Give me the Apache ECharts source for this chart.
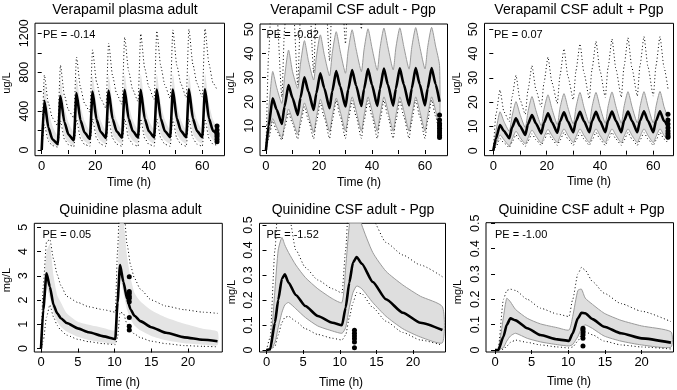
<!DOCTYPE html>
<html>
<head>
<meta charset="utf-8">
<script src="https://cdn.jsdelivr.net/npm/echarts@6/dist/echarts.min.js"></script>
<style>
html,body{margin:0;padding:0;background:#fff;}
#chart{width:677px;height:390px;}
</style>
</head>
<body>
<div id="chart"></div>
<script>
// ---- time grids (h) ----
var tVera = [0,1,2.5,4, 6,7,8.5,10, 12,13,14.5,16, 18,19,20.5,22, 24,25,26.5,28, 30,31,32.5,34,
  36,37,38.5,40, 42,43,44.5,46, 48,49,50.5,52, 54,55,56.5,58, 60,61,62.5,64, 65.5];
var tQ4 = [0,0.3,0.75,1.2,1.7,2.2,2.7,3.5,5,6.5,8.5,10.1,10.4,10.75,11.2,11.7,12.2,12.7,13.5,15,17,19.5,22,24];
var tQ5 = [0,0.5,1.15,1.6,2.1,2.5,3,4,5.3,7,9,10.3,10.8,11.3,11.8,12.3,13,14.5,16.3,18.6,21,24];
var tQ6 = [0,0.45,1.15,1.6,2.1,2.8,4.4,6.2,8.5,10.1,10.6,11.3,11.8,12.3,13.3,14.9,17.2,20,24];

// ---- Verapamil plasma adult (ug/L) ----
var vpMed = [0,505,230,110, 62,555,285,160, 100,585,305,180, 115,600,312,188, 125,612,318,192, 128,618,320,195,
  130,620,322,196, 130,622,322,196, 132,622,323,197, 132,624,323,197, 132,625,323,197, 165];
var vpHi = [0,680,400,250, 150,730,440,285, 185,755,460,300, 200,765,468,305, 205,772,472,308, 210,776,475,310,
  210,778,476,311, 212,780,477,312, 212,780,478,312, 212,781,478,312, 212,782,478,312, 230];
var vpLo = [0,330,110,60, 35,380,140,80, 50,400,155,90, 58,410,160,95, 62,415,162,97, 64,418,164,98,
  65,420,165,99, 65,420,165,99, 66,421,166,100, 66,421,166,100, 66,422,166,100, 80];
var vpP95 = [0,770,480,330, 250,870,560,410, 330,955,640,480, 390,1030,700,530, 430,1100,760,580, 470,1160,810,620,
  500,1195,840,650, 520,1225,860,670, 530,1235,870,680, 540,1240,880,685, 545,1248,885,690, 620];
var vpP05 = [0,260,90,45, 30,300,110,55, 35,315,118,58, 38,320,120,60, 38,320,120,60, 38,320,120,60,
  38,320,120,60, 38,320,120,60, 38,320,120,60, 38,320,120,60, 38,320,120,60, 48];
var vpObs = [247,206,172,154,137,110,86];

// ---- Verapamil CSF adult - Pgp (ug/L) ----
var vcMed = [0,10,21.4,16.8, 10.8,18,26.9,21.6, 14.5,21.6,30.1,24.3, 16.6,23.5,31.8,25.6, 17.3,24.3,32.7,26.4,
  18,24.9,33.1,26.7, 18.2,25.2,33.5,27, 18.3,25.3,33.7,27.1, 18.4,25.4,33.8,27.2, 18.5,25.5,33.9,27.3, 18.5,25.5,34,27.3, 20];
var vcHi = [0,16,32.5,26, 19.3,30,41.4,32.5, 25.5,35.5,45.3,37, 29,38.5,47.7,39.5, 30.7,40,49,41, 31.8,41,49.8,41.8,
  32.5,41.5,50.2,42.3, 33,42,50.5,42.7, 33.2,42.2,50.6,42.9, 33.5,42.4,50.7,43, 33.6,42.5,50.8,43.1, 35];
var vcLo = [0,6,13,9.5, 5,10.5,17,12.5, 6.5,12.5,19.5,14.5, 7.2,13.5,21,15.5, 7.6,14,21.5,16, 7.8,14.2,22,16.3,
  7.8,14.2,22,16.3, 7.8,14.2,22,16.3, 7.8,14.2,22,16.3, 7.8,14.2,22,16.3, 7.8,14.2,22,16.3, 9];
var vcP95 = [0,40,75,58, 22,50,85,66, 27,55,92,72, 32,60,96,76, 37,64,100,80, 44,68,102,82,
  50,72,104,84, 53,74,105,85, 55,75,106,86, 56,76,106,86, 57,77,107,87, 62];
var vcP05 = [0,4.5,12,8, 4.1,9,15.5,11, 4.5,10.5,18,12.5, 4.7,11.5,19.5,13.5, 4.8,12,20.5,14, 4.8,12,20.5,14,
  4.8,12,20.5,14, 4.8,12,20.5,14, 4.8,12,20.5,14, 4.8,12,20.7,14, 4.8,12,20.7,14, 6];
var vcObs = [14.5,12.4,11,10,9,8,7,6,5.2];

// ---- Verapamil CSF adult + Pgp (ug/L) ----
var vkMed = [0,5,10.6,8.1, 5.1,9.5,13.3,10.2, 6.5,11,14.7,11.2, 7.1,11.5,15.4,11.7, 7.4,12,15.8,12, 7.6,12.2,16,12.2,
  7.6,12.2,16,12.2, 7.6,12.3,16.1,12.3, 7.6,12.3,16.1,12.3, 7.6,12.3,16.2,12.3, 7.6,12.3,16.2,12.3, 9.9];
var vkHi = [0,8,16,12, 8,14,20.2,15, 9.5,16,22.3,16.5, 10.3,17,23,17.2, 10.8,17.5,23.5,17.6, 11,17.8,24,17.9,
  11.2,17.9,24,18, 11.3,18,24.2,18.1, 11.3,18,24.3,18.2, 11.4,18,24.3,18.2, 11.4,18.1,24.4,18.2, 13];
var vkLo = [0,2.5,6.5,4.5, 2,4.5,8,5.5, 2.8,5.2,8.5,6, 3.1,5.6,8.8,6.2, 3.3,5.8,9,6.3, 3.3,5.8,9,6.3,
  3.3,5.8,9,6.3, 3.3,5.8,9,6.3, 3.3,5.8,9,6.3, 3.3,5.8,9,6.3, 3.3,5.8,9,6.3, 4.5];
var vkP95 = [0,15,25,16, 12,22,31,21, 15,25,35,25, 18,28,38.5,28, 19.5,31,42,30.5, 21,33,44,32,
  21.5,33.5,45,33, 22,34,46,33.5, 22,34.5,46.5,34, 22.5,35,47,34.5, 22.5,35,47,34.5, 25.5];
var vkP05 = [0,1.5,5,3.2, 1.3,3.5,6.5,4.2, 1.8,4,7,4.5, 2.2,4.3,7.5,4.8, 2.2,4.3,7.5,4.8, 2.2,4.3,7.5,4.8,
  2.2,4.3,7.5,4.8, 2.2,4.3,7.5,4.8, 2.2,4.3,7.5,4.8, 2.2,4.3,7.5,4.8, 2.2,4.3,7.5,4.8, 3.2];
var vkObs = [15,12.6,11,9.5,8.1,7.1,6.2,5.5];

// ---- Quinidine plasma adult (mg/L) ----
var qpMed = [0,1.6,3.1,2.55,1.8,1.45,1.25,1.05,0.83,0.67,0.5,0.39,1.9,3.44,2.75,2.05,1.6,1.35,1.13,0.88,0.65,0.46,0.36,0.3];
var qpHi = [0,2.0,4.0,4.3,3.0,2.2,1.9,1.45,1.1,0.98,0.85,0.77,2.8,5.4,5.3,3.8,2.9,2.3,1.95,1.58,1.28,1.02,0.82,0.7];
var qpLo = [0,1.0,2.5,2.1,1.45,1.1,0.9,0.7,0.48,0.35,0.25,0.2,1.0,2.9,2.3,1.6,1.2,0.95,0.75,0.52,0.34,0.22,0.16,0.14];
var qpP95 = [0,2.6,4.4,4.5,3.7,3.05,2.6,2.15,1.9,1.72,1.6,1.5,4.0,6.5,6.0,4.3,3.4,2.9,2.45,2.0,1.75,1.6,1.5,1.45];
var qpP05 = [0,0.3,1.3,1.8,1.3,0.95,0.75,0.55,0.38,0.28,0.2,0.16,0.45,1.5,1.45,1.0,0.75,0.6,0.45,0.3,0.2,0.12,0.09,0.07];
var qpObs = [2.96,2.35,2.27,2.16,2.07,1.93,1.28,0.92,0.76];

// ---- Quinidine CSF adult - Pgp (mg/L) ----
var qcMed = [0,0.003,0.11,0.2,0.285,0.303,0.27,0.22,0.176,0.136,0.109,0.099,0.17,0.27,0.35,0.372,0.345,0.272,0.203,0.149,0.109,0.08];
var qcHi = [0,0.005,0.24,0.4,0.45,0.42,0.39,0.34,0.29,0.245,0.205,0.19,0.33,0.5,0.58,0.58,0.5,0.39,0.315,0.26,0.215,0.173];
var qcLo = [0,0,0.03,0.09,0.15,0.18,0.19,0.165,0.13,0.096,0.076,0.067,0.09,0.17,0.23,0.256,0.245,0.19,0.135,0.085,0.052,0.029];
var qcP95 = [0,0.05,0.4,0.6,0.7,0.68,0.55,0.4,0.33,0.28,0.245,0.228,0.4,0.65,0.8,0.8,0.72,0.52,0.43,0.38,0.34,0.293];
var qcP05 = [0,0,0.015,0.06,0.11,0.13,0.135,0.115,0.085,0.062,0.047,0.04,0.06,0.13,0.19,0.23,0.225,0.17,0.115,0.07,0.04,0.019];
var qcObs = [0.079,0.067,0.056,0.045,0.032,0.009];

// ---- Quinidine CSF adult + Pgp (mg/L) ----
var qkMed = [0,0,0.053,0.099,0.125,0.117,0.086,0.059,0.042,0.036,0.066,0.125,0.147,0.145,0.122,0.092,0.066,0.046,0.029];
var qkHi = [0,0.003,0.13,0.204,0.19,0.16,0.125,0.103,0.088,0.079,0.132,0.235,0.24,0.205,0.18,0.145,0.117,0.095,0.072];
var qkLo = [0,0,0.01,0.035,0.055,0.066,0.046,0.032,0.021,0.016,0.022,0.053,0.085,0.099,0.085,0.055,0.035,0.02,0.011];
var qkP95 = [0,0.01,0.2,0.235,0.24,0.235,0.2,0.165,0.142,0.132,0.2,0.3,0.326,0.315,0.27,0.224,0.183,0.153,0.112];
var qkP05 = [0,0,0.003,0.015,0.03,0.039,0.03,0.02,0.012,0.008,0.012,0.035,0.06,0.072,0.06,0.035,0.02,0.012,0.004];
var qkObs = [0.086,0.079,0.068,0.059,0.046,0.016];

// ---- ticks / labels ----
var xTicksVera = [0,10,20,30,40,50,60];
var xLabelsVera = [0,20,40,60];
var xTicksQuin = [0,5,10,15,20];
var yTicksVp = [0,200,400,600,800,1000,1200];
var yLabelsVp = [0,400,800,1200];
var yTicksCsfV = [0,10,20,30,40,50];
var yTicksQp = [0,1,2,3,4,5];
var yTicksCsfQ = [0,0.1,0.2,0.3,0.4,0.5];

var FONT = '"Liberation Sans", Arial, sans-serif';

var panels = [
  {title:'Verapamil plasma adult', unit:'ug/L', pe:'PE = -0.14', t:tVera, med:vpMed, hi:vpHi, lo:vpLo, p95:vpP95, p05:vpP05,
   obsT:65.5, obs:vpObs, xT:xTicksVera, xL:xLabelsVera, yT:yTicksVp, yL:yLabelsVp, outline:false},
  {title:'Verapamil CSF adult - Pgp', unit:'ug/L', pe:'PE = -0.82', t:tVera, med:vcMed, hi:vcHi, lo:vcLo, p95:vcP95, p05:vcP05,
   obsT:65.5, obs:vcObs, xT:xTicksVera, xL:xLabelsVera, yT:yTicksCsfV, yL:yTicksCsfV, outline:true},
  {title:'Verapamil CSF adult + Pgp', unit:'ug/L', pe:'PE = 0.07', t:tVera, med:vkMed, hi:vkHi, lo:vkLo, p95:vkP95, p05:vkP05,
   obsT:65.5, obs:vkObs, xT:xTicksVera, xL:xLabelsVera, yT:yTicksCsfV, yL:yTicksCsfV, outline:true},
  {title:'Quinidine plasma adult', unit:'mg/L', pe:'PE = 0.05', t:tQ4, med:qpMed, hi:qpHi, lo:qpLo, p95:qpP95, p05:qpP05,
   obsT:12, obs:qpObs, xT:xTicksQuin, xL:xTicksQuin, yT:yTicksQp, yL:yTicksQp, outline:false},
  {title:'Quinidine CSF adult - Pgp', unit:'mg/L', pe:'PE = -1.52', t:tQ5, med:qcMed, hi:qcHi, lo:qcLo, p95:qcP95, p05:qcP05,
   obsT:12, obs:qcObs, xT:xTicksQuin, xL:xTicksQuin, yT:yTicksCsfQ, yL:yTicksCsfQ, outline:true},
  {title:'Quinidine CSF adult + Pgp', unit:'mg/L', pe:'PE = -1.00', t:tQ6, med:qkMed, hi:qkHi, lo:qkLo, p95:qkP95, p05:qkP05,
   obsT:12, obs:qkObs, xT:xTicksQuin, xL:xTicksQuin, yT:yTicksCsfQ, yL:yTicksCsfQ, outline:true}
];

// plot boxes in px and axis ranges matching them
var layout = [
  {l:35, t:23.2, r:224.5, b:155.7, x0:-2.5, x1:68.3, y0:-58.6, y1:1304, tx:125, ty:10, ux:7, uy:83, hx:129, hy:182.5, px:43, py:34.5},
  {l:260, t:24, r:447.5, b:155.7, x0:-2.26, x1:68.5, y0:-2.36, y1:52.2, tx:353, ty:10, ux:231, uy:83, hx:359, hy:182.5, px:266.5, py:34.5},
  {l:484.5, t:23.3, r:673.5, b:155.7, x0:-3.3, x1:67.57, y0:-2.06, y1:52.47, tx:579, ty:10, ux:457, uy:83, hx:589, hy:182, px:494, py:34.5},
  {l:34.3, t:223.3, r:222.3, b:352, x0:-0.914, x1:24.65, y0:-0.144, y1:5.165, tx:130.5, ty:210, ux:6.5, uy:280, hx:118, hy:382.5, px:42.5, py:234.5},
  {l:259.5, t:223.3, r:445.5, b:352, x0:-0.955, x1:24.42, y0:-0.008, y1:0.5068, tx:353, ty:210, ux:231.5, uy:292, hx:341, hy:382.5, px:266.5, py:234.5},
  {l:486, t:222.7, r:673.5, b:352, x0:-1.23, x1:24.35, y0:-0.0079, y1:0.5024, tx:581.5, ty:210, ux:457.5, uy:292, hx:569, hy:382, px:495, py:234.5}
];

function pairs(t, v) {
  var out = [];
  for (var i = 0; i < t.length; i++) out.push([t[i], v[i]]);
  return out;
}
function plain(v) { return String(v); }

var grids = [], xAxes = [], yAxes = [], series = [], graphics = [];

panels.forEach(function (p, i) {
  var g = layout[i];
  grids.push({left:g.l, top:g.t, width:g.r - g.l, height:g.b - g.t, show:true,
    borderColor:'#000', borderWidth:1, backgroundColor:'transparent'});
  xAxes.push({gridIndex:i, type:'value', min:g.x0, max:g.x1,
    axisLine:{show:false}, splitLine:{show:false},
    axisTick:{show:true, customValues:p.xT, length:4, lineStyle:{color:'#000', width:1}},
    axisLabel:{customValues:p.xL, formatter:plain, margin:4, fontSize:13, color:'#000', fontFamily:FONT}});
  yAxes.push({gridIndex:i, type:'value', min:g.y0, max:g.y1,
    axisLine:{show:false}, splitLine:{show:false},
    axisTick:{show:true, customValues:p.yT, length:4, lineStyle:{color:'#000', width:1}},
    axisLabel:{customValues:p.yL, formatter:plain, rotate:90, margin:4, fontSize:12.5, color:'#000', fontFamily:FONT}});

  (function (p, i) {
    series.push({type:'custom', xAxisIndex:i, yAxisIndex:i, clip:true, silent:true, z:1,
      data:[[p.t[0], 0]],
      renderItem:function (params, api) {
        var pts = [], k;
        for (k = 0; k < p.t.length; k++) pts.push(api.coord([p.t[k], p.hi[k]]));
        for (k = p.t.length - 1; k >= 0; k--) pts.push(api.coord([p.t[k], p.lo[k]]));
        return {type:'polygon', shape:{points:pts, smooth:0.2},
          style:{fill: p.outline ? '#dedede' : '#e4e4e4',
                 stroke: p.outline ? '#9a9a9a' : null, lineWidth:1}};
      }});
  })(p, i);

  [p.p95, p.p05].forEach(function (arr) {
    series.push({type:'line', xAxisIndex:i, yAxisIndex:i, data:pairs(p.t, arr), symbol:'none',
      smooth:0.2, smoothMonotone:'x', silent:true, z:3,
      lineStyle:{color:'#000', width:1, type:[1, 2.5]}});
  });
  series.push({type:'line', xAxisIndex:i, yAxisIndex:i, data:pairs(p.t, p.med), symbol:'none',
    smooth:0.2, smoothMonotone:'x', silent:true, z:4,
    lineStyle:{color:'#000', width:2.6}});
  series.push({type:'scatter', xAxisIndex:i, yAxisIndex:i, silent:true, z:5, symbolSize:5,
    itemStyle:{color:'#000', opacity:1},
    data:p.obs.map(function (v) { return [p.obsT, v]; })});

  graphics.push({type:'text', x:g.tx, y:g.ty, style:{text:p.title, fill:'#000',
    font:'14px ' + FONT, align:'center', verticalAlign:'middle'}});
  graphics.push({type:'text', x:g.ux, y:g.uy, rotation:Math.PI / 2, style:{text:p.unit, fill:'#000',
    font:'11px ' + FONT, align:'center', verticalAlign:'middle'}});
  graphics.push({type:'text', x:g.hx, y:g.hy, style:{text:'Time (h)', fill:'#000',
    font:'12px ' + FONT, align:'center', verticalAlign:'middle'}});
  graphics.push({type:'text', x:g.px, y:g.py, z:10, style:{text:p.pe, fill:'#000',
    font:'11px ' + FONT, align:'left', verticalAlign:'middle'}});
});

var chart = echarts.init(document.getElementById('chart'), null, {renderer:'canvas'});
chart.setOption({
  animation:false,
  backgroundColor:'#fff',
  grid:grids,
  xAxis:xAxes,
  yAxis:yAxes,
  series:series,
  graphic:graphics
});
</script>
</body>
</html>
